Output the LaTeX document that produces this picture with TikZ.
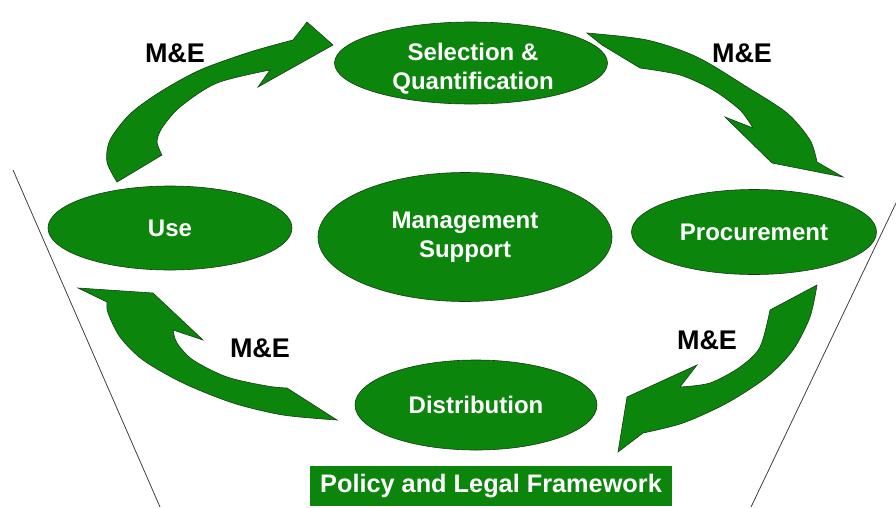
\documentclass[tikz,border=0pt]{standalone}
\usepackage{fontspec}
\setmainfont{Liberation Sans}
\usetikzlibrary{shapes.geometric}
\definecolor{mygreen}{RGB}{12,133,12}
\definecolor{myedge}{RGB}{20,60,20}
\tikzset{
  blockarrow/.style={fill=mygreen,draw=myedge,line width=0.6pt,line join=miter},
  stage/.style={ellipse,fill=mygreen,draw=myedge,line width=0.6pt,inner sep=0pt,
    text=white,font=\fontsize{24}{29}\selectfont\bfseries,align=center},
  stagetext/.style={text=white,font=\fontsize{24}{29}\selectfont\bfseries,align=center,inner sep=0pt},
  melabel/.style={text=black,font=\fontsize{27}{30}\selectfont\bfseries,inner sep=0pt},
  frameline/.style={draw=black!75,line width=0.8pt},
  policybox/.style={rectangle,fill=mygreen,draw=none,text=white,inner sep=0pt,
    font=\fontsize{25.3}{28}\selectfont\bfseries}
}
\begin{document}
\begin{tikzpicture}[x=1pt,y=-1pt]
\useasboundingbox (0,0) rectangle (896,507);
\fill[white] (0,0) rectangle (896,507);
% frame lines
\coordinate (lt) at (13,170);
\coordinate (lb) at (160,507);
\coordinate (rt) at (897,201);
\coordinate (rb) at (751,507);
\draw[frameline] (lt) -- (lb);
\draw[frameline] (rt) -- (rb);
% arrow 1 (Use -> Selection)
\path[blockarrow] (117,182) -- plot[smooth] coordinates {(117,182) (107,162) (110,140) (130,114) (160,92) (200,70) (250,52) (293,40)}
  -- (307,22) -- (333,45) -- (258,87)
  -- plot[smooth] coordinates {(270,70) (217,83) (180,107) (162,128) (157,142) (162,155)} -- cycle;
% arrow 2 (Selection -> Procurement)
\path[blockarrow] (587,33) -- plot[smooth] coordinates {(587,33) (647,40) (697,57) (747,87) (787,113) (810,140) (817,162)}
  -- (843,177) -- (772,163) -- (725,117)
  -- plot[smooth] coordinates {(753,128) (740,110) (713,90) (680,75) (640,68)} -- (602,45) -- cycle;
% arrow 3 (Procurement -> Distribution)
\path[blockarrow] (817,285) -- plot[smooth] coordinates {(817,285) (810,317) (793,350) (767,377) (727,403) (683,423) (643,433)}
  -- (618,452) -- (627,397) -- (697,365)
  -- plot[smooth] coordinates {(680,387) (710,383) (740,367) (760,347) (770,310)} -- cycle;
% arrow 4 (Distribution -> Use)
\path[blockarrow] (78,288) -- (153,293) -- (203,340)
  -- plot[smooth] coordinates {(173,330) (177,343) (193,360) (227,377) (267,386) (287,388)}
  -- (337,420)
  -- plot[smooth] coordinates {(337,420) (283,415) (233,403) (183,383) (143,360) (120,337) (108,313) (107,302)} -- cycle;
% stages
\node[stage,minimum width=273pt,minimum height=82pt] (sel) at (471,63) {};
\node[stagetext] (seltext) at (473,69) {Selection \&\\Quantification};
\node[stage,minimum width=244pt,minimum height=84pt] (use) at (170,228) {Use};
\node[stage,minimum width=294pt,minimum height=129pt] (mgmt) at (465,237) {Management\\Support};
\node[stage,minimum width=245pt,minimum height=85pt] (proc) at (754,232) {Procurement};
\node[stage,minimum width=242pt,minimum height=90pt] (dist) at (476,405) {Distribution};
% M&E labels
\node[melabel] (me1) at (175,53) {M\&E};
\node[melabel] (me2) at (742,53) {M\&E};
\node[melabel] (me3) at (260,348) {M\&E};
\node[melabel] (me4) at (707,340) {M\&E};
% policy box
\node[policybox,minimum width=362pt,minimum height=40pt] (policy) at (491,486) {Policy and Legal Framework};
\end{tikzpicture}
\end{document}
